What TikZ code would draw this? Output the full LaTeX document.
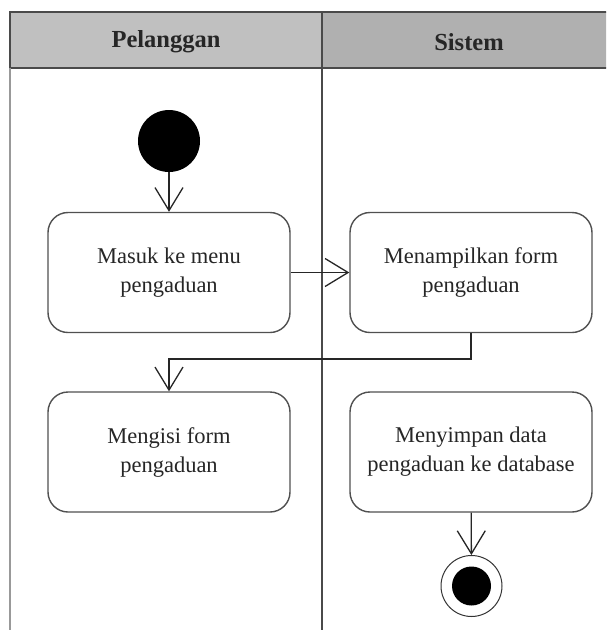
\documentclass[tikz,border=0pt]{standalone}
\usepackage{fontspec}
\setmainfont{Liberation Serif}
\usetikzlibrary{arrows.meta}
\definecolor{headL}{HTML}{C0C0C0}
\definecolor{headR}{HTML}{B0B0B0}
\definecolor{frame}{HTML}{4A4A4A}
\definecolor{boxline}{HTML}{505050}
\tikzset{
  lanehead/.style={font=\fontsize{24.5}{28}\selectfont\bfseries, text=black!85},
  action/.style={draw=boxline, line width=1.4pt, rounded corners=20pt,
    minimum width=242pt, minimum height=120pt, align=center,
    font=\fontsize{22.5}{29}\selectfont, text=black!85},
  flow/.style={draw=black!85, line width=1.3pt,
    -{Straight Barb[length=23pt,width=28pt,line width=1.3pt]}},
}
\begin{document}
\begin{tikzpicture}[x=1pt,y=-1pt]
\useasboundingbox (0,0) rectangle (606,630);
\fill[white] (0,0) rectangle (606,630);
\begin{scope}
\clip (0,0) rectangle (606,630);
% swimlane header
\fill[headL] (10,12) rectangle (322,68);
\fill[headR] (322,12) rectangle (620,68);
\draw[frame, line width=2.2pt] (10,68) -- (10,12) -- (620,12);
\draw[frame, line width=2.2pt] (10,68) -- (620,68);
% lane borders
\draw[black!40, line width=2.2pt] (10,68) -- (10,640);
\draw[frame, line width=2pt] (322,12) -- (322,640);
\end{scope}
\node[lanehead] (lane1) at (166,42) {Pelanggan};
\node[lanehead] (lane2) at (469,42) {Sistem};

% start and final states
\node[circle, fill=black, minimum size=62pt, inner sep=0pt] (start) at (169,141) {};
\node[circle, draw=black!80, line width=1pt, fill=white, minimum size=61pt, inner sep=0pt] (end) at (471.5,586) {};
\node[circle, fill=black, minimum size=39pt, inner sep=0pt] (endcore) at (end.center) {};

% actions
\node[action] (b1) at (169,272.5) {Masuk ke menu\\pengaduan};
\node[action] (b2) at (471,272.5) {Menampilkan form\\pengaduan};
\node[action] (b3) at (169,452) {Mengisi form\\pengaduan};
\node[action] (b4) at (471,452) {Menyimpan data\\pengaduan ke database};

% control flow
\coordinate (turn) at (471,359);
\draw[flow] (start) -- (b1);
\draw[flow] (b1) -- (b2);
\draw[flow] (b2.south) -- (turn) -| (b3.north);
\draw[flow] (b4) -- (end);
\end{tikzpicture}
\end{document}
